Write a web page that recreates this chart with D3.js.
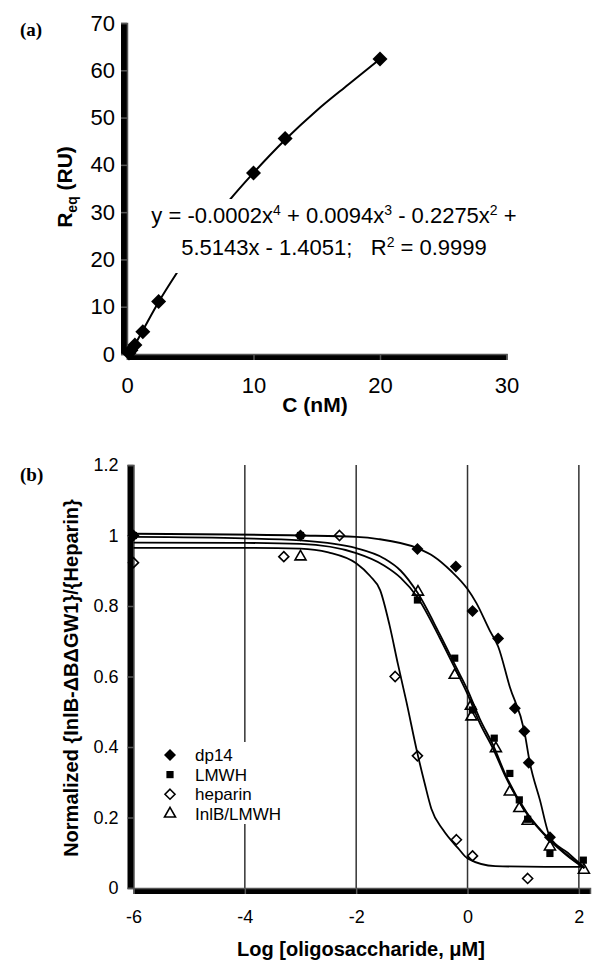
<!DOCTYPE html>
<html lang="en">
<head>
<meta charset="UTF-8"/>
<title>Req and competition curves</title>
<script src="https://d3js.org/d3.v7.min.js"></script>
<style>
  body { margin: 0; background: #fff; }
  svg { display: block; }
</style>
</head>
<body>
<svg id="fig" width="616" height="970"></svg>
<script>
// ---- panel (a) data ----
var concA = [0.156, 0.3125, 0.625, 1.25, 2.5, 10, 12.5, 20];
var reqA = [0.2, 0.8, 1.9, 4.7, 11.1, 38.3, 45.6, 62.4];
// trendline
var fitA = [[0.16, 0.2], [0.63, 2.0], [1.25, 5.0], [2.5, 11.0], [4, 17.4], [6, 25.3],
            [8, 32.2], [10, 38.3], [12.5, 45.3], [15, 51.5], [17.5, 57.0], [20, 62.4]];
var ticksAx = [0, 10, 20, 30];
var ticksAy = [0, 10, 20, 30, 40, 50, 60, 70];

// ---- panel (b) data: points ----
var dp14 = [[-6, 1.0], [-3, 1.0], [-0.9, 0.962], [-0.21, 0.912], [0.09, 0.786], [0.55, 0.708],
            [0.85, 0.51], [1.02, 0.445], [1.1, 0.355], [1.48, 0.144]];
var lmwh = [[-6, 1.0], [-3, 1.0], [-0.9, 0.817], [-0.23, 0.652], [0.09, 0.505], [0.48, 0.425],
            [0.76, 0.325], [0.93, 0.25], [1.08, 0.195], [1.48, 0.098], [2.08, 0.079]];
var heparin = [[-6, 0.923], [-3.3, 0.94], [-2.3, 1.0], [-1.3, 0.6], [-0.9, 0.375], [-0.2, 0.137],
               [0.09, 0.091], [1.08, 0.027]];
var inlb = [[-3, 0.94], [-0.89, 0.84], [-0.23, 0.604], [0.06, 0.516], [0.07, 0.486], [0.51, 0.396],
            [0.76, 0.273], [0.93, 0.226], [1.08, 0.19], [1.48, 0.117], [2.09, 0.051]];

// ---- panel (b) data: fitted curves ----
var dp14Fit = [[-6, 1.005], [-3, 1.0], [-2, 0.996], [-1.6, 0.99], [-0.9, 0.964], [-0.6, 0.94],
               [-0.3, 0.9], [0, 0.848], [0.16, 0.808], [0.4, 0.73], [0.55, 0.685], [0.76, 0.57],
               [1.02, 0.445], [1.12, 0.355], [1.3, 0.25], [1.48, 0.145], [1.8, 0.1], [2.1, 0.058]];
var lmwhFit = [[-6, 0.996], [-4, 0.992], [-3, 0.986], [-2, 0.964], [-1.5, 0.935], [-1.2, 0.9],
               [-0.9, 0.838], [-0.5, 0.72], [-0.2, 0.625], [0, 0.562], [0.22, 0.48], [0.46, 0.405],
               [0.7, 0.315], [1.06, 0.215], [1.48, 0.137], [1.78, 0.095], [2.1, 0.057]];
var inlbFit = [[-6, 0.98], [-4, 0.979], [-3, 0.976], [-2, 0.95], [-1.5, 0.915], [-1.2, 0.88],
               [-0.9, 0.825], [-0.5, 0.71], [-0.2, 0.615], [0, 0.55], [0.22, 0.468], [0.46, 0.395],
               [0.7, 0.31], [1.06, 0.212], [1.48, 0.135], [1.78, 0.093], [2.1, 0.056]];
var heparinFit = [[-6, 0.965], [-4, 0.965], [-3, 0.963], [-2.5, 0.952], [-2, 0.921], [-1.75, 0.885],
                  [-1.57, 0.845], [-1.4, 0.745], [-1.25, 0.635], [-1.1, 0.53], [-0.9, 0.382],
                  [-0.77, 0.297], [-0.65, 0.225], [-0.44, 0.165], [-0.17, 0.113], [0, 0.084],
                  [0.5, 0.062], [1.4, 0.06], [2.1, 0.06]];
var ticksBx = [-6, -4, -2, 0, 2];
var gridBx = [-4, -2, 0, 2];
var ticksBy = [0, 0.2, 0.4, 0.6, 0.8, 1, 1.2];
var legendNames = ["dp14", "LMWH", "heparin", "InlB/LMWH"];

var FONT = "'Liberation Sans', Arial, Helvetica, sans-serif";
var svg = d3.select("#fig");

// marker shapes
function diamond(r) { return "M0," + (-r) + "L" + r + ",0L0," + r + "L" + (-r) + ",0Z"; }
function square(h) { return "M" + (-h) + "," + (-h) + "H" + h + "V" + h + "H" + (-h) + "Z"; }
function triangle(s) {
    var h = s * Math.sqrt(3) / 2;
    return "M0," + (-2 * h / 3) + "L" + (s / 2) + "," + (h / 3) + "L" + (-s / 2) + "," + (h / 3) + "Z";
}

function styleAxis(g, size) {
    g.attr("font-family", FONT).attr("font-size", size).attr("fill", "#000");
    g.select(".domain").attr("stroke", "#555").attr("stroke-width", 1.5);
    g.selectAll(".tick line").attr("stroke", "#555").attr("stroke-width", 1.5);
    g.selectAll(".tick text").attr("fill", "#000");
}

// ================= panel (a) =================
var xA = d3.scaleLinear().domain([0, 30]).range([127, 506.5]);
var yA = d3.scaleLinear().domain([0, 70]).range([354, 23]);

svg.append("text").attr("x", 20).attr("y", 36)
    .attr("font-family", "'Liberation Serif', 'Times New Roman', serif")
    .attr("font-weight", "bold").attr("font-size", 19).text("(a)");

svg.append("g").attr("transform", "translate(0,354)")
    .call(d3.axisBottom(xA).tickValues(ticksAx).tickSize(6).tickPadding(17).tickFormat(String))
    .call(styleAxis, 22);
svg.append("g").attr("transform", "translate(127,0)")
    .call(d3.axisLeft(yA).tickValues(ticksAy).tickSize(6).tickPadding(6).tickFormat(String))
    .call(styleAxis, 22);

svg.append("path").datum(fitA)
    .attr("fill", "none").attr("stroke", "#000").attr("stroke-width", 2)
    .attr("d", d3.line().x(function (d) { return xA(d[0]); }).y(function (d) { return yA(d[1]); })
        .curve(d3.curveMonotoneX));

svg.append("g").selectAll("path").data(concA).enter().append("path")
    .attr("transform", function (d, i) { return "translate(" + xA(d) + "," + yA(reqA[i]) + ")"; })
    .attr("d", diamond(7.5)).attr("fill", "#000");

// trendline label with its white box
svg.append("rect").attr("x", 148).attr("y", 199).attr("width", 374).attr("height", 74).attr("fill", "#fff");
var eq = svg.append("g").attr("font-family", FONT).attr("font-size", 22).attr("text-anchor", "middle");
var l1 = eq.append("text").attr("x", 334).attr("y", 223);
[["y = -0.0002x", false], ["4", true], [" + 0.0094x", false], ["3", true], [" - 0.2275x", false], ["2", true], [" +", false]]
    .forEach(function (p) {
        var t = l1.append("tspan").text(p[0]);
        if (p[1]) t.attr("font-size", 14).attr("dy", -8);
        else if (l1.selectAll("tspan").size() > 1) t.attr("dy", 8);
    });
var l2 = eq.append("text").attr("x", 334).attr("y", 255).attr("xml:space", "preserve");
l2.append("tspan").text("5.5143x - 1.4051;   R");
l2.append("tspan").attr("font-size", 14).attr("dy", -8).text("2");
l2.append("tspan").attr("dy", 8).text(" = 0.9999");

svg.append("text").attr("transform", "translate(72,187) rotate(-90)")
    .attr("font-family", FONT).attr("font-weight", "bold").attr("font-size", 21)
    .attr("text-anchor", "middle")
    .call(function (t) {
        t.append("tspan").text("R");
        t.append("tspan").attr("font-size", 14).attr("dy", 5).text("eq");
        t.append("tspan").attr("dy", -5).text(" (RU)");
    });
svg.append("text").attr("x", 315).attr("y", 412)
    .attr("font-family", FONT).attr("font-weight", "bold").attr("font-size", 21)
    .attr("text-anchor", "middle").text("C (nM)");

// ================= panel (b) =================
var xB = d3.scaleLinear().domain([-6, 2.2]).range([133.5, 590]);
var yB = d3.scaleLinear().domain([0, 1.2]).range([888, 465]);

svg.append("text").attr("x", 20).attr("y", 481)
    .attr("font-family", "'Liberation Serif', 'Times New Roman', serif")
    .attr("font-weight", "bold").attr("font-size", 19).text("(b)");

svg.append("g").selectAll("line").data(gridBx).enter().append("line")
    .attr("x1", function (d) { return xB(d); }).attr("x2", function (d) { return xB(d); })
    .attr("y1", yB(1.2)).attr("y2", yB(0))
    .attr("stroke", "#333").attr("stroke-width", 1.5);

svg.append("g").attr("transform", "translate(0,888)")
    .call(d3.axisBottom(xB).tickValues(ticksBx).tickSize(6).tickPadding(16).tickFormat(String))
    .call(styleAxis, 18);
svg.append("g").attr("transform", "translate(133.5,0)")
    .call(d3.axisLeft(yB).tickValues(ticksBy).tickSize(6).tickPadding(9).tickFormat(String))
    .call(styleAxis, 18);

// legend box hides the grid line behind it
svg.append("rect").attr("x", 158).attr("y", 742).attr("width", 142).attr("height", 82).attr("fill", "#fff");

var lineB = d3.line().x(function (d) { return xB(d[0]); }).y(function (d) { return yB(d[1]); })
    .curve(d3.curveMonotoneX);
[dp14Fit, lmwhFit, inlbFit, heparinFit].forEach(function (f) {
    svg.append("path").datum(f).attr("fill", "none").attr("stroke", "#000")
        .attr("stroke-width", 1.8).attr("d", lineB);
});

var shapes = [
    {data: lmwh, d: square(3.6), fill: "#000", stroke: "none"},
    {data: inlb, d: triangle(11), fill: "none", stroke: "#000"},
    {data: heparin, d: diamond(5), fill: "none", stroke: "#000"},
    {data: dp14, d: diamond(6), fill: "#000", stroke: "none"}
];
shapes.forEach(function (s) {
    svg.append("g").selectAll("path").data(s.data).enter().append("path")
        .attr("transform", function (d) { return "translate(" + xB(d[0]) + "," + yB(d[1]) + ")"; })
        .attr("d", s.d).attr("fill", s.fill).attr("stroke", s.stroke).attr("stroke-width", 1.6);
});

// legend
var legShapes = [
    {d: diamond(6), fill: "#000", stroke: "none"},
    {d: square(3.6), fill: "#000", stroke: "none"},
    {d: diamond(5), fill: "none", stroke: "#000"},
    {d: triangle(11), fill: "none", stroke: "#000"}
];
var leg = svg.append("g").selectAll("g").data(legendNames).enter().append("g")
    .attr("transform", function (d, i) { return "translate(170," + (755 + i * 19.6) + ")"; });
leg.append("path").attr("d", function (d, i) { return legShapes[i].d; })
    .attr("fill", function (d, i) { return legShapes[i].fill; })
    .attr("stroke", function (d, i) { return legShapes[i].stroke; }).attr("stroke-width", 1.6);
leg.append("text").attr("x", 25).attr("y", 6)
    .attr("font-family", FONT).attr("font-size", 17).text(function (d) { return d; });

svg.append("text").attr("transform", "translate(78,678) rotate(-90)")
    .attr("font-family", FONT).attr("font-weight", "bold").attr("font-size", 20)
    .attr("text-anchor", "middle").text("Normalized {InlB-\u0394B\u0394GW1}/{Heparin}");
svg.append("text").attr("x", 361).attr("y", 956)
    .attr("font-family", FONT).attr("font-weight", "bold").attr("font-size", 20)
    .attr("text-anchor", "middle").text("Log [oligosaccharide, \u03bcM]");
</script>
</body>
</html>
